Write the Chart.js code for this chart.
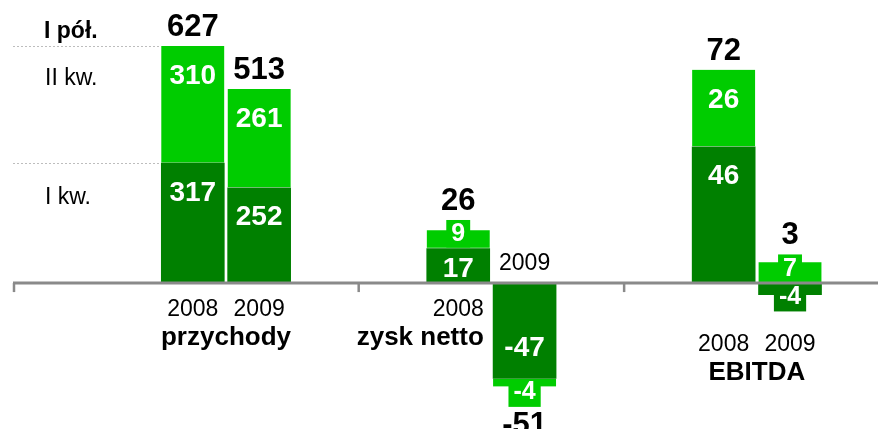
<!DOCTYPE html>
<html>
<head>
<meta charset="utf-8">
<script src="https://cdn.jsdelivr.net/npm/chart.js@4/dist/chart.umd.min.js"></script>
<style>
  html, body { margin: 0; padding: 0; background: #fff; }
  canvas { display: block; }
</style>
</head>
<body>
<canvas id="chart" width="878" height="429"></canvas>
<script>
const groups = ['przychody', 'zysk netto', 'EBITDA'];
const years = ['2008', '2009'];
const seriesNames = ['I kw.', 'II kw.'];
const totalName = 'I pół.';

// mln zł, [2008, 2009]
const q1Revenue = [317, 252];
const q2Revenue = [310, 261];
const q1NetProfit = [17, -47];
const q2NetProfit = [9, -4];
const q1Ebitda = [46, -4];
const q2Ebitda = [26, 7];

const DARK = '#008000';
const LIGHT = '#00cc00';
const FONT = "'Liberation Sans', Arial, sans-serif";

const q1Sets = [q1Revenue, q1NetProfit, q1Ebitda];
const q2Sets = [q2Revenue, q2NetProfit, q2Ebitda];
const axisIds = ['yRev', 'yNet', 'yEbitda'];

// two empty slots before every pair of bars
const slotLabels = [];
groups.forEach(() => slotLabels.push('', '', ...years));
const slotOf = (g, i) => 4 * g + 2 + i;

function spread(values, g) {
  const out = slotLabels.map(() => null);
  values.forEach((v, i) => { out[slotOf(g, i)] = v; });
  return out;
}

const datasets = [];
groups.forEach((name, g) => {
  datasets.push({
    label: seriesNames[0],
    data: spread(q1Sets[g], g),
    yAxisID: axisIds[g],
    backgroundColor: DARK,
    borderWidth: 0
  });
  datasets.push({
    label: seriesNames[1],
    data: spread(q2Sets[g], g),
    yAxisID: axisIds[g],
    backgroundColor: LIGHT,
    borderColor: '#e4f6e4',
    borderWidth: (c) => (c.raw === null || c.raw >= 0) ? { bottom: 1 } : { top: 1 },
    borderSkipped: false
  });
});

function write(ctx, str, x, y, font, color, align) {
  ctx.font = font;
  ctx.fillStyle = color;
  ctx.textAlign = align || 'center';
  ctx.textBaseline = 'middle';
  ctx.fillText(str, x, y);
}

const labelsPlugin = {
  id: 'labelsPlugin',
  afterDatasetsDraw(chart) {
    const ctx = chart.ctx;
    const zero = chart.scales[axisIds[0]].getPixelForValue(0);
    const colors = [DARK, LIGHT];
    const info = [];

    ctx.save();
    // value labels inside the segments
    groups.forEach((name, g) => {
      const bars = years.map((yr, i) => {
        const slot = slotOf(g, i);
        const bar = { x: 0, top: zero, bottom: zero, total: 0, labelY: [], segY: [], left: 0 };
        [0, 1].forEach((s) => {
          const el = chart.getDatasetMeta(2 * g + s).data[slot];
          const v = chart.data.datasets[2 * g + s].data[slot];
          bar.total += v;
          bar.x = el.x;
          bar.left = el.x - el.width / 2;
          const dir = el.y < el.base ? -1 : 1;
          const h = Math.abs(el.y - el.base);
          const cy = el.base + dir * Math.max(14, h - 30);
          const size = h >= 30 ? 28 : 25;
          const font = `bold ${size}px ${FONT}`;
          ctx.font = font;
          const w = ctx.measureText(String(v)).width + 10;
          let y0 = cy - 14.5, y1 = cy + 14.5;
          if (dir < 0) y1 = Math.min(y1, el.base - 1); else y0 = Math.max(y0, el.base + 1);
          ctx.fillStyle = colors[s];
          ctx.fillRect(el.x - w / 2, y0, w, y1 - y0);
          write(ctx, String(v), el.x, cy, font, '#fff');
          bar.top = Math.min(bar.top, el.y, y0);
          bar.bottom = Math.max(bar.bottom, el.y, y1);
          bar.labelY.push(cy);
          bar.segY.push(el.y);
        });
        return bar;
      });
      info.push(bars);
    });

    // axis line with ticks between the groups
    const centers = info.map((bars) => (bars[0].x + bars[1].x) / 2);
    const ticks = [14];
    for (let g = 1; g < centers.length; g++) ticks.push((centers[g - 1] + centers[g]) / 2);
    ctx.strokeStyle = '#8a8a8a';
    ctx.lineWidth = 3;
    ctx.beginPath();
    ctx.moveTo(13, zero);
    ctx.lineTo(chart.width, zero);
    ctx.stroke();
    ctx.lineWidth = 2.5;
    ticks.forEach((t) => {
      ctx.beginPath();
      ctx.moveTo(t, zero);
      ctx.lineTo(t, zero + 9);
      ctx.stroke();
    });

    // totals, year labels, group names
    info.forEach((bars, g) => {
      let below = zero;
      bars.forEach((b) => { if (b.total >= 0) below = Math.max(below, b.bottom); });
      const rowY = below + (below > zero + 1 ? 33 : 27);
      let nameX = centers[g], nameAlign = 'center';
      bars.forEach((b, i) => {
        const ty = b.total >= 0 ? b.top - 18.5 : b.bottom + 18.5;
        write(ctx, String(b.total), b.x, ty, `bold 31px ${FONT}`, '#000');
        b.totalY = ty;
        const font = `23px ${FONT}`;
        if (b.total >= 0) {
          write(ctx, years[i], b.x, rowY, font, '#000');
        } else {
          write(ctx, years[i], b.x, zero - 19, font, '#000');
        }
      });
      if (bars.some((b) => b.total < 0)) {
        const first = bars.find((b) => b.total >= 0);
        ctx.font = `23px ${FONT}`;
        nameX = first.x + ctx.measureText(years[bars.indexOf(first)]).width / 2;
        nameAlign = 'right';
      }
      write(ctx, groups[g], nameX, rowY + 28, `bold 26px ${FONT}`, '#000', nameAlign);
    });

    // row names and dotted guides next to the first bar
    const ref = info[0][0];
    write(ctx, totalName, 44, ref.totalY + 4, `bold 23px ${FONT}`, '#000', 'left');
    write(ctx, seriesNames[1], 45, ref.labelY[1] + 3, `23px ${FONT}`, '#000', 'left');
    write(ctx, seriesNames[0], 45, ref.labelY[0] + 4, `23px ${FONT}`, '#000', 'left');
    ctx.strokeStyle = '#bdbdbd';
    ctx.lineWidth = 1;
    ctx.setLineDash([2, 2]);
    ref.segY.forEach((y) => {
      ctx.beginPath();
      ctx.moveTo(13, Math.round(y) + 0.5);
      ctx.lineTo(ref.left - 2, Math.round(y) + 0.5);
      ctx.stroke();
    });
    ctx.restore();
  }
};

new Chart(document.getElementById('chart'), {
  type: 'bar',
  data: { labels: slotLabels, datasets: datasets },
  options: {
    responsive: false,
    animation: false,
    devicePixelRatio: 1,
    barThickness: 63,
    layout: { padding: { left: 26.9, right: 54.8, top: 10, bottom: 9 } },
    plugins: { legend: { display: false }, tooltip: { enabled: false } },
    scales: {
      x: { stacked: true, display: false, grid: { display: false } },
      yRev: { stacked: true, display: false, min: -362, max: 722 },
      yNet: { stacked: true, display: false, min: -67.5, max: 134.5 },
      yEbitda: { stacked: true, display: false, min: -46.3, max: 92.2 }
    }
  },
  plugins: [labelsPlugin]
});
</script>
</body>
</html>
